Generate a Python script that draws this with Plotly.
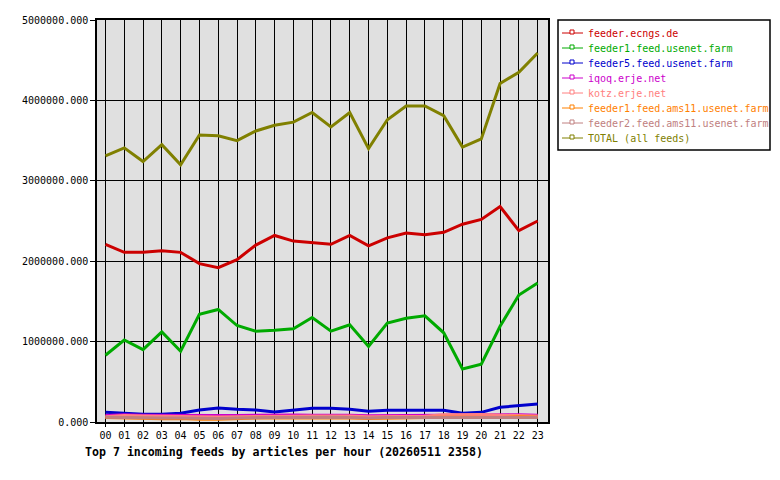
import plotly.graph_objects as go

hours = ["00","01","02","03","04","05","06","07","08","09","10","11",
         "12","13","14","15","16","17","18","19","20","21","22","23"]

feed_names = [
    "feeder.ecngs.de",
    "feeder1.feed.usenet.farm",
    "feeder5.feed.usenet.farm",
    "iqoq.erje.net",
    "kotz.erje.net",
    "feeder1.feed.ams11.usenet.farm",
    "feeder2.feed.ams11.usenet.farm",
    "TOTAL (all feeds)",
]
feed_colors = ["#cc0000", "#00aa00", "#0000cc", "#cc00cc",
               "#ff8080", "#ff8000", "#c08080", "#808000"]

ecngs = [2210000, 2110000, 2110000, 2130000, 2110000, 1970000, 1920000, 2020000,
         2200000, 2320000, 2250000, 2230000, 2210000, 2320000, 2190000, 2290000,
         2350000, 2330000, 2360000, 2460000, 2520000, 2680000, 2380000, 2500000]
usenet1 = [830000, 1020000, 900000, 1120000, 880000, 1340000, 1400000, 1200000,
           1130000, 1140000, 1160000, 1300000, 1130000, 1210000, 940000, 1230000,
           1290000, 1320000, 1110000, 660000, 720000, 1190000, 1580000, 1730000]
usenet5 = [120000, 108000, 96000, 96000, 110000, 150000, 174000, 158000,
           150000, 124000, 150000, 170000, 170000, 158000, 133000, 145000,
           145000, 145000, 145000, 110000, 120000, 183000, 208000, 224000]
iqoq = [80000, 90000, 85000, 82000, 80000, 78000, 80000, 80000,
        85000, 82000, 88000, 85000, 88000, 85000, 78000, 80000,
        80000, 85000, 90000, 92000, 90000, 92000, 90000, 85000]
kotz = [65000, 80000, 75000, 70000, 65000, 60000, 62000, 65000,
        70000, 68000, 72000, 75000, 78000, 75000, 65000, 65000,
        68000, 72000, 90000, 95000, 92000, 85000, 80000, 75000]
ams11_1 = [55000, 50000, 40000, 40000, 45000, 35000, 35000, 45000,
           50000, 50000, 50000, 55000, 55000, 50000, 45000, 50000,
           55000, 55000, 60000, 60000, 60000, 55000, 65000, 60000]
ams11_2 = [60000, 55000, 50000, 50000, 50000, 45000, 45000, 50000,
           55000, 55000, 55000, 60000, 60000, 55000, 50000, 55000,
           55000, 55000, 55000, 55000, 55000, 55000, 55000, 55000]
total = [3310000, 3410000, 3240000, 3450000, 3200000, 3570000, 3560000, 3500000,
         3620000, 3690000, 3730000, 3850000, 3670000, 3850000, 3400000, 3760000,
         3930000, 3930000, 3810000, 3420000, 3520000, 4210000, 4350000, 4590000]

series = [ecngs, usenet1, usenet5, iqoq, kotz, ams11_1, ams11_2, total]

y_tickvals = [0, 1000000, 2000000, 3000000, 4000000, 5000000]
y_ticktext = ["0.000", "1000000.000", "2000000.000", "3000000.000",
              "4000000.000", "5000000.000"]

title_text = "Top 7 incoming feeds by articles per hour (20260511 2358)"

# plot area in pixels
L, R, T, B = 97, 548, 20, 422
W, H = R - L, B - T
def px(p):
    return (p - L) / W
def py(p):
    return (B - p) / H

FONT = "DejaVu Sans Mono"

fig = go.Figure()
xs = list(range(len(hours)))
for name, color, vals in zip(feed_names, feed_colors, series):
    fig.add_trace(go.Scatter(x=xs, y=vals, mode="lines", name=name,
                             line=dict(color=color, width=3),
                             showlegend=False))

shapes = []
annotations = []
# legend box
shapes.append(dict(type="rect", xref="paper", yref="paper",
                   x0=px(558), x1=px(770), y0=py(150), y1=py(20),
                   line=dict(color="black", width=1.5), fillcolor="white",
                   layer="above"))
for i, (name, color) in enumerate(zip(feed_names, feed_colors)):
    yc = 33 + 15 * i
    shapes.append(dict(type="line", xref="paper", yref="paper",
                       x0=px(562), x1=px(583), y0=py(yc), y1=py(yc),
                       line=dict(color=color, width=1), layer="above"))
    shapes.append(dict(type="rect", xref="paper", yref="paper",
                       x0=px(570), x1=px(574), y0=py(yc + 1), y1=py(yc - 3),
                       line=dict(color=color, width=1), fillcolor="white",
                       layer="above"))
    annotations.append(dict(text=name, xref="paper", yref="paper",
                            x=px(586), y=py(yc), xanchor="left", yanchor="middle",
                            showarrow=False,
                            font=dict(family=FONT, size=10, color=color)))

annotations.append(dict(text="<b>" + title_text + "</b>", xref="paper", yref="paper",
                        x=px(83), y=py(452), xanchor="left", yanchor="middle",
                        showarrow=False,
                        font=dict(family=FONT, size=11.6, color="black")))

fig.update_layout(
    width=780, height=480,
    margin=dict(l=L, r=780 - R, t=T, b=480 - B, pad=0),
    paper_bgcolor="white", plot_bgcolor="#e0e0e0",
    font=dict(family=FONT, size=10, color="black"),
    shapes=shapes, annotations=annotations,
    showlegend=False,
)
fig.update_xaxes(range=[-0.45, 23.55], tickvals=xs, ticktext=hours,
                 showgrid=True, gridcolor="black", gridwidth=1,
                 showline=True, linecolor="black", linewidth=1.5, mirror=True,
                 ticks="outside", ticklen=3, tickcolor="black", zeroline=False,
                 tickfont=dict(family=FONT, size=10, color="black"))
fig.update_yaxes(range=[0, 5000000], tickvals=y_tickvals, ticktext=y_ticktext,
                 showgrid=True, gridcolor="black", gridwidth=1,
                 showline=True, linecolor="black", linewidth=1.5, mirror=True,
                 ticks="outside", ticklen=5, tickcolor="black", zeroline=False,
                 tickfont=dict(family=FONT, size=10, color="black"))

fig.write_html("out.html")
